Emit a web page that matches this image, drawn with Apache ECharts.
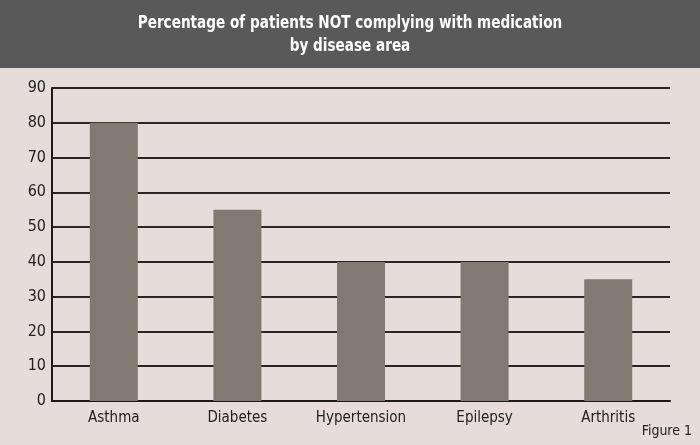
<!DOCTYPE html>
<html>
<head>
<meta charset="utf-8">
<script src="https://cdn.jsdelivr.net/npm/echarts@6/dist/echarts.min.js"></script>
<style>
  html, body { margin: 0; padding: 0; background: #e6dcda; }
  #chart { width: 700px; height: 445px; }
</style>
</head>
<body>
<div id="chart"></div>
<script>
var categories = ['Asthma', 'Diabetes', 'Hypertension', 'Epilepsy', 'Arthritis'];
var values = [80, 55, 40, 40, 35];
var titleLines = ['Percentage of patients NOT complying with medication', 'by disease area'];

var font = '"DejaVu Sans Condensed", "Liberation Sans Narrow", sans-serif';

var chartDom = document.getElementById('chart');
var myChart = echarts.init(chartDom);
var option;

option = {
  backgroundColor: '#e6dcda',
  animation: false,
  graphic: [
    {
      type: 'rect',
      shape: { x: 0, y: 0, width: 700, height: 68 },
      style: { fill: '#595959' }
    },
    {
      type: 'text',
      x: 350,
      y: 12,
      scaleX: 0.84,
      style: {
        text: titleLines.join('\n'),
        fill: '#ffffff',
        font: 'bold 18px ' + font,
        align: 'center',
        verticalAlign: 'top',
        lineHeight: 23
      }
    },
    {
      type: 'text',
      right: 8,
      top: 424,
      style: {
        text: 'Figure 1',
        fill: '#222',
        font: '14px ' + font
      }
    }
  ],
  grid: { left: 52, right: 30, top: 88, bottom: 44 },
  xAxis: {
    type: 'category',
    data: categories,
    axisLine: { lineStyle: { color: '#1e1a1a', width: 2 } },
    axisTick: { show: false },
    axisLabel: { interval: 0, color: '#222', fontFamily: font, fontSize: 15, margin: 10 }
  },
  yAxis: {
    type: 'value',
    min: 0,
    max: 90,
    interval: 10,
    axisLine: { show: true, lineStyle: { color: '#1e1a1a', width: 2 } },
    axisTick: { show: false },
    axisLabel: { color: '#222', fontFamily: font, fontSize: 16, margin: 6 },
    splitLine: { lineStyle: { color: '#2a2424', width: 2 } }
  },
  series: [
    {
      type: 'bar',
      data: values,
      barWidth: 48,
      itemStyle: { color: '#847872' }
    }
  ]
};

option && myChart.setOption(option);
</script>
</body>
</html>
